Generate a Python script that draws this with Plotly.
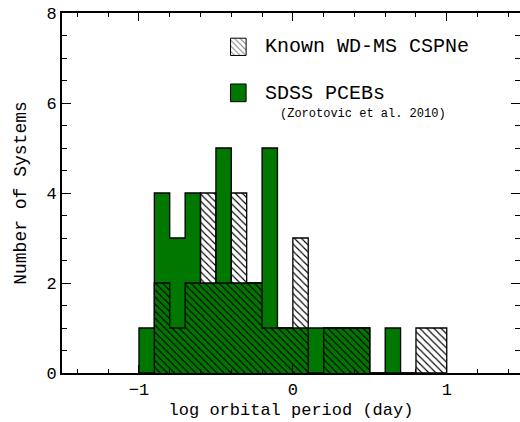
import plotly.graph_objects as go

# ---- data ----
bin_left = [-1.0, -0.9, -0.8, -0.7, -0.6, -0.5, -0.4, -0.3, -0.2, -0.1,
            0.0, 0.1, 0.2, 0.3, 0.4, 0.5, 0.6, 0.7, 0.8, 0.9]
bin_width = 0.1
sdss_pcebs = [1, 4, 3, 4, 2, 5, 2, 2, 5, 1, 1, 1, 1, 1, 1, 0, 1, 0, 0, 0]
known_cspne = [0, 2, 1, 2, 4, 2, 4, 2, 1, 1, 3, 0, 1, 1, 1, 0, 0, 0, 1, 1]

x_ticks = [-1, 0, 1]
y_ticks = [0, 2, 4, 6, 8]

GREEN = "#007800"
FONT = "Liberation Mono"

centers = [b + bin_width / 2 for b in bin_left]
edges = bin_left + [bin_left[-1] + bin_width]


def outline(counts):
    xs = [edges[0]] + edges
    ys = [0] + list(counts) + [0]
    return xs, ys


fig = go.Figure()

# SDSS PCEBs - solid green
fig.add_trace(go.Bar(x=centers, y=sdss_pcebs, width=bin_width,
                     marker=dict(color=GREEN, line=dict(width=0)),
                     showlegend=False, hoverinfo="skip"))
xs, ys = outline(sdss_pcebs)
fig.add_trace(go.Scatter(x=xs, y=ys, mode="lines", line_shape="hv",
                         line=dict(color="black", width=1.3),
                         showlegend=False, hoverinfo="skip"))

# Known WD-MS CSPNe - hatched, transparent
fig.add_trace(go.Bar(x=centers, y=known_cspne, width=bin_width,
                     marker=dict(color="rgba(0,0,0,0)", line=dict(width=0),
                                 pattern=dict(shape="\\", fgcolor="black",
                                              bgcolor="rgba(0,0,0,0)",
                                              size=5, solidity=0.22,
                                              fillmode="replace")),
                     showlegend=False, hoverinfo="skip"))
xs, ys = outline(known_cspne)
fig.add_trace(go.Scatter(x=xs, y=ys, mode="lines", line_shape="hv",
                         line=dict(color="black", width=1.3),
                         showlegend=False, hoverinfo="skip"))

# right-side mirrored ticks (no spine visible)
fig.add_trace(go.Scatter(x=[edges[0]], y=[0], mode="markers", opacity=0,
                         xaxis="x", yaxis="y3", showlegend=False,
                         hoverinfo="skip"))

# legend boxes drawn in an overlay (paper-like) coordinate system
box_x = [0.368, 0.402]
box1_y = [0.882, 0.930]
box2_y = [0.7536, 0.8028]


def rect(bx, by):
    return ([bx[0], bx[1], bx[1], bx[0], bx[0]],
            [by[0], by[0], by[1], by[1], by[0]])


rx, ry = rect(box_x, box1_y)
fig.add_trace(go.Scatter(x=rx, y=ry, mode="lines", fill="toself",
                         fillcolor="rgba(0,0,0,0)",
                         fillpattern=dict(shape="\\", fgcolor="black",
                                          bgcolor="rgba(0,0,0,0)",
                                          size=4, solidity=0.25),
                         line=dict(color="black", width=1),
                         xaxis="x2", yaxis="y2", showlegend=False,
                         hoverinfo="skip"))
rx, ry = rect(box_x, box2_y)
fig.add_trace(go.Scatter(x=rx, y=ry, mode="lines", fill="toself",
                         fillcolor=GREEN,
                         line=dict(color="black", width=1),
                         xaxis="x2", yaxis="y2", showlegend=False,
                         hoverinfo="skip"))

fig.add_annotation(text="Known WD-MS CSPNe", xref="paper", yref="paper",
                   x=0.439, y=0.9056, xanchor="left", yanchor="middle",
                   showarrow=False, font=dict(family=FONT, size=20, color="black"))
fig.add_annotation(text="SDSS PCEBs", xref="paper", yref="paper",
                   x=0.439, y=0.775, xanchor="left", yanchor="middle",
                   showarrow=False, font=dict(family=FONT, size=20, color="black"))
fig.add_annotation(text="(Zorotovic et al. 2010)", xref="paper", yref="paper",
                   x=0.4716, y=0.7194, xanchor="left", yanchor="middle",
                   showarrow=False, font=dict(family=FONT, size=12, color="black"))

fig.update_layout(
    width=520, height=422,
    margin=dict(l=62, r=0, t=13, b=49, autoexpand=False),
    paper_bgcolor="white", plot_bgcolor="white",
    barmode="overlay", bargap=0,
    showlegend=False,
    font=dict(family=FONT, size=16, color="black"),
    xaxis=dict(
        range=[-1.5, 1.476], tickvals=x_ticks, automargin=False,
        showline=True, linewidth=2, linecolor="black", mirror="ticks",
        ticks="inside", ticklen=8, tickwidth=1, tickcolor="black",
        minor=dict(dtick=0.2, tick0=0, ticks="inside", ticklen=4,
                   tickwidth=1, tickcolor="black"),
        showgrid=False, zeroline=False,
        tickfont=dict(family=FONT, size=17),
        ticklabeloverflow="allow",
        title=dict(text="log orbital period (day)",
                   font=dict(family=FONT, size=17), standoff=4),
    ),
    yaxis=dict(
        range=[0, 8], tickvals=y_ticks, automargin=False,
        showline=True, linewidth=2, linecolor="black", mirror=False,
        ticks="inside", ticklen=9, tickwidth=1, tickcolor="black",
        minor=dict(dtick=0.5, tick0=0, ticks="inside", ticklen=5,
                   tickwidth=1, tickcolor="black"),
        showgrid=False, zeroline=False,
        tickfont=dict(family=FONT, size=17),
        ticklabeloverflow="allow",
        title=dict(text="Number of Systems",
                   font=dict(family=FONT, size=18), standoff=15),
    ),
    yaxis3=dict(
        range=[0, 8], overlaying="y", side="right", anchor="x",
        tickvals=y_ticks, showticklabels=False, showline=False,
        automargin=False,
        ticks="inside", ticklen=9, tickwidth=1, tickcolor="black",
        minor=dict(dtick=0.5, tick0=0, ticks="inside", ticklen=5,
                   tickwidth=1, tickcolor="black"),
        showgrid=False, zeroline=False,
    ),
    xaxis2=dict(range=[0, 1], overlaying="x", anchor="y2", visible=False),
    yaxis2=dict(range=[0, 1], overlaying="y", anchor="x2", visible=False),
)

# remove the page's default body margin so the 520x422 figure fills the window
fig.write_html("out.html",
               config={"displayModeBar": False},
               post_script="document.body.style.margin='0';")
